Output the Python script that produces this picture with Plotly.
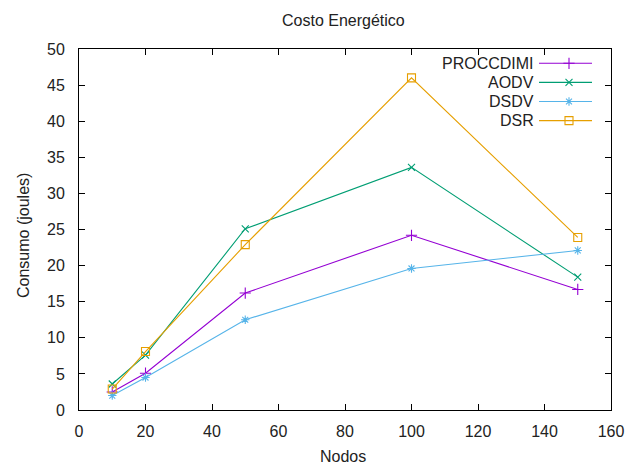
import plotly.graph_objects as go

nodos = [10, 20, 50, 100, 150]
proccdimi = [2.5, 5.1, 16.2, 24.2, 16.7]
aodv = [3.6, 7.6, 25.1, 33.6, 18.4]
dsdv = [2.0, 4.5, 12.5, 19.6, 22.1]
dsr = [2.9, 8.1, 22.9, 46.0, 23.9]

title_text = "Costo Energético"
x_title = "Nodos"
y_title = "Consumo (joules)"

series = [
    ("PROCCDIMI", proccdimi, "#9400d3", "cross-thin-open", 8),
    ("AODV", aodv, "#009e73", "x-thin-open", 7),
    ("DSDV", dsdv, "#56b4e9", "asterisk-open", 7),
    ("DSR", dsr, "#e69f00", "square-open", 8),
]

font = "Liberation Sans, Arial, sans-serif"
txt = "#222"
fs = 16

# plot area in pixels (layout)
L, R, T, B = 79, 611, 49, 410
W, H = 635, 466

fig = go.Figure()
for name, vals, color, sym, sz in series:
    fig.add_trace(go.Scatter(
        x=nodos, y=vals, name=name, mode="lines+markers", showlegend=False,
        line=dict(color=color, width=1.1),
        marker=dict(symbol=sym, size=sz, color=color, line=dict(color=color, width=1.1)),
    ))

# custom gnuplot-style legend (text right, sample on the right), pixel coords via overlay axes
leg_y0, leg_dy = 63.3, 19.1
leg_text_x, leg_x0, leg_x1, leg_xm = 536, 539, 592, 569
for i, (name, vals, color, sym, sz) in enumerate(series):
    yy = leg_y0 + i * leg_dy
    fig.add_trace(go.Scatter(
        x=[leg_x0, leg_x1], y=[yy, yy], mode="lines", xaxis="x2", yaxis="y2",
        line=dict(color=color, width=1.1), showlegend=False, hoverinfo="skip"))
    fig.add_trace(go.Scatter(
        x=[leg_xm], y=[yy], mode="markers", xaxis="x2", yaxis="y2",
        marker=dict(symbol=sym, size=sz, color=color, line=dict(color=color, width=1.1)),
        showlegend=False, hoverinfo="skip"))
    fig.add_annotation(x=leg_text_x, y=yy, xref="x2", yref="y2", text=name,
                       showarrow=False, xanchor="right", yanchor="middle",
                       font=dict(family=font, size=fs, color=txt))

# titles as annotations in pixel coords
def px_x(p):
    return (p - L) / (R - L)

def px_y(p):
    return (B - p) / (B - T)

fig.add_annotation(x=px_x(343), y=px_y(20.5), xref="paper", yref="paper", text=title_text,
                   showarrow=False, xanchor="center", yanchor="middle",
                   font=dict(family=font, size=fs, color=txt))
fig.add_annotation(x=px_x(342.5), y=px_y(456), xref="paper", yref="paper", text=x_title,
                   showarrow=False, xanchor="center", yanchor="middle",
                   font=dict(family=font, size=fs, color=txt))
fig.add_annotation(x=px_x(23.5), y=px_y(235.5), xref="paper", yref="paper", text=y_title,
                   showarrow=False, xanchor="center", yanchor="middle", textangle=-90,
                   font=dict(family=font, size=fs, color=txt))

axis_common = dict(
    showline=True, linecolor="black", linewidth=1, mirror="ticks",
    ticks="inside", ticklen=6, tickcolor="black", showgrid=False, zeroline=False,
    tickfont=dict(family=font, size=fs, color=txt), automargin=False,
)
fig.update_layout(
    width=W, height=H,
    margin=dict(l=L, r=W - R, t=T, b=H - B, autoexpand=False),
    paper_bgcolor="white", plot_bgcolor="white",
    xaxis=dict(range=[0, 160], dtick=20, ticklabelstandoff=7, **axis_common),
    yaxis=dict(range=[0, 50], dtick=5, ticklabelstandoff=10, **axis_common),
    xaxis2=dict(overlaying="x", range=[L, R], visible=False, fixedrange=True, automargin=False),
    yaxis2=dict(overlaying="y", range=[B, T], visible=False, fixedrange=True, automargin=False),
    showlegend=False,
)
fig.write_html("out.html")
